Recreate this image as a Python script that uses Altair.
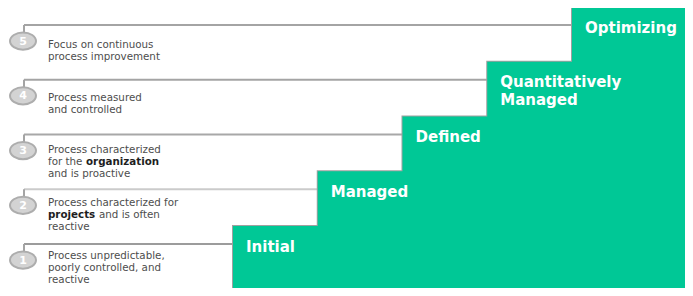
import altair as alt
import pandas as pd

# ---- data ----
levels = [1, 2, 3, 4, 5]
numbers = ["1", "2", "3", "4", "5"]
stage_names = [["Initial"], ["Managed"], ["Defined"], ["Quantitatively", "Managed"], ["Optimizing"]]
# each description: list of lines; each line: list of (segment, bold)
descriptions = [
    [[("Process unpredictable,", False)], [("poorly controlled, and", False)], [("reactive", False)]],
    [[("Process characterized for", False)], [("projects", True), ("and is often", False)], [("reactive", False)]],
    [[("Process characterized", False)], [("for the", False), ("organization", True)], [("and is proactive", False)]],
    [[("Process measured", False)], [("and controlled", False)]],
    [[("Focus on continuous", False)], [("process improvement", False)]],
]

# ---- style ----
W, H = 677, 280
GREEN = "#00c896"
TEXT_GRAY = "#4d4d4d"
rule_colors = ["#9c9c9c", "#cbcbcb", "#a8a8a8", "#a4a4a4", "#a4a4a4"]
FONT = "DejaVu Sans"
DESC_SIZE = 10.3
LINE_STEP = 12
# x offset (px) of a segment following another on the same line
seg_offsets = {"organization": 38, "and is often": 51}

xs = alt.Scale(domain=[-1.6549, 6.3333], nice=False, zero=False)
ys = alt.Scale(domain=[-0.1306, 4.9836], nice=False, zero=False)
ys_text = alt.Scale(domain=[0.4502, 5.7582], nice=False, zero=False)

steps = pd.DataFrame({"level": levels, "name": stage_names, "num": numbers})

X = alt.X("level:Q", scale=xs, axis=None)
Y = alt.Y("level:Q", scale=ys, axis=None)

base = alt.Chart(steps)

step_outline = base.mark_rect(fill=GREEN, stroke="#a0a0a0", strokeWidth=2).encode(
    x=X, x2=alt.value(W + 10), y=Y, y2=alt.value(H + 10)
)
step_fill = base.mark_rect(fill=GREEN).encode(
    x=X, x2=alt.value(W + 10), y=Y, y2=alt.value(H + 10)
)

rules = base.mark_rule(strokeWidth=2, yOffset=18).encode(
    x=X, x2=alt.value(16), y=Y,
    color=alt.Color("level:O", scale=alt.Scale(domain=levels, range=rule_colors), legend=None),
)
ticks = base.mark_rule(strokeWidth=2, yOffset=18, y2Offset=26, color="#a4a4a4").encode(
    x=alt.value(16), y=Y, y2=alt.Y2("level")
)

ellipse = "M-1,0A1,0.66,0,1,1,1,0A1,0.66,0,1,1,-1,0Z"
circles = base.mark_point(
    shape=ellipse, size=676, filled=True, fill="#d3d3d3", stroke="#adadad",
    strokeWidth=2, opacity=1, yOffset=34,
).encode(x=alt.value(15), y=Y)
nums = base.mark_text(
    font=FONT, fontSize=11, fontWeight="bold", color="white", baseline="middle",
    align="center", yOffset=34.5,
).encode(x=alt.value(15), y=Y, text="num:N")

labels = base.mark_text(
    font=FONT, fontSize=15, fontWeight="bold", color="white", align="left",
    baseline="alphabetic", dx=13, yOffset=25.5, lineHeight=17.5,
).encode(x=X, y=Y, text="name")

main = alt.layer(rules, ticks, step_outline, step_fill, labels, circles, nums)

# description segments
rows = []
for lvl, desc in zip(levels, descriptions):
    for li, line in enumerate(desc):
        for si, (seg, bold) in enumerate(line):
            off = 0 if si == 0 else seg_offsets[seg]
            rows.append({"level": lvl, "line": li, "seg": seg, "bold": bold, "off": off})
desc_df = pd.DataFrame(rows)

desc_layers = []
for (li, off, bold), grp in desc_df.groupby(["line", "off", "bold"]):
    desc_layers.append(
        alt.Chart(grp).mark_text(
            font=FONT, fontSize=DESC_SIZE, fontWeight="bold" if bold else "normal",
            color="#1e1e1e" if bold else TEXT_GRAY, align="left", baseline="alphabetic",
            yOffset=LINE_STEP * int(li),
        ).encode(
            x=alt.value(40 + int(off)),
            y=alt.Y("level:Q", scale=ys_text, axis=None),
            text="seg:N",
        )
    )
texts = alt.layer(*desc_layers)

chart = alt.layer(main, texts).resolve_scale(y="independent").properties(
    width=W, height=H, padding=0, autosize=alt.AutoSizeParams(type="none")
).configure_view(strokeWidth=0)

chart.save("out.html", embed_options={"renderer": "svg", "actions": False})
